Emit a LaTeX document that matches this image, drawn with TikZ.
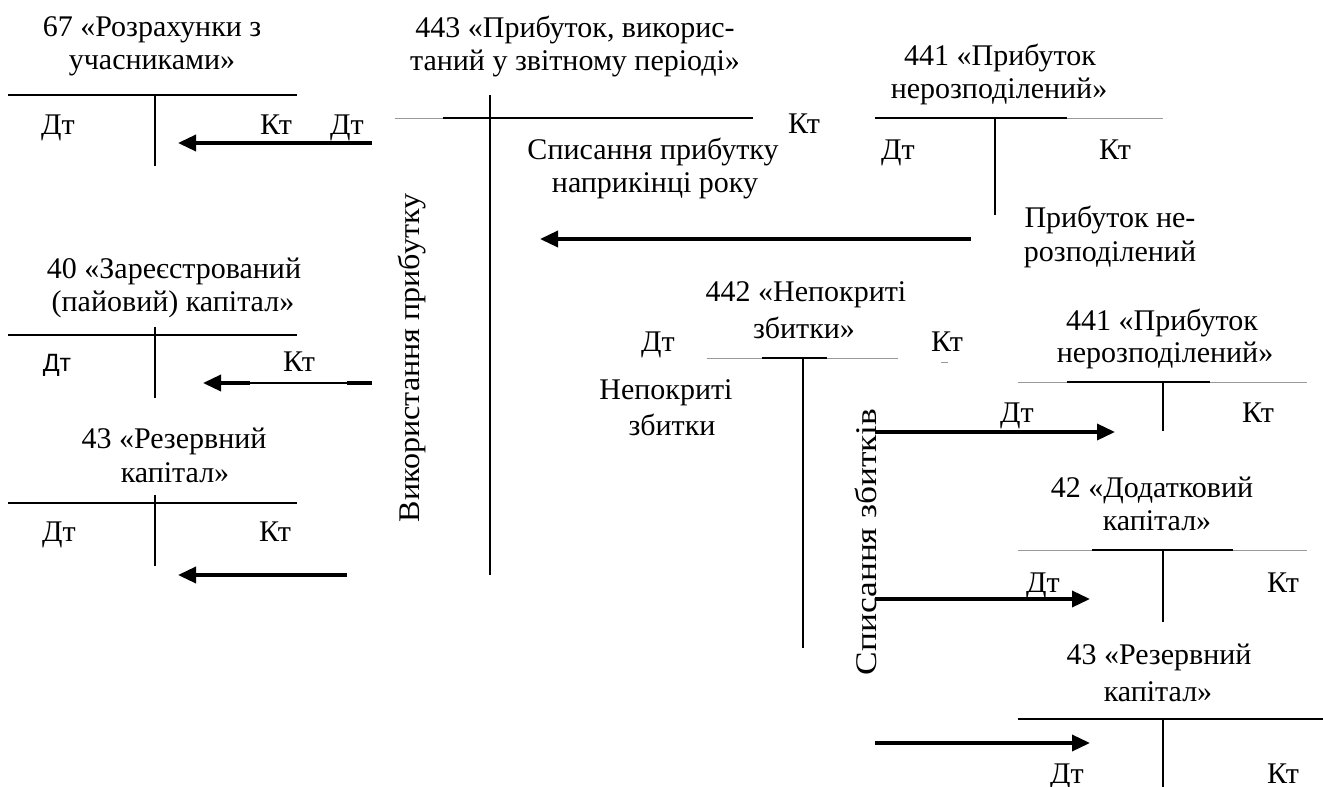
\documentclass[tikz,border=0pt]{standalone}
\usepackage{fontspec}
\setmainfont{Liberation Serif}
\newfontfamily\arialfont{Liberation Sans}
\usetikzlibrary{arrows.meta}

\begin{document}
\begin{tikzpicture}[x=1pt,y=-1pt,
  lbl/.style={font=\fontsize{30}{34}\selectfont, inner sep=0pt, anchor=base},
  vlbl/.style={font=\fontsize{30}{34}\selectfont, inner sep=0pt, rotate=90},
  tacc/.style={line width=1.8pt},
  graylin/.style={line width=1pt, draw=black!40},
  flow/.style={line width=3.5pt, -{Triangle[length=18pt,width=16pt]}},
  thinflow/.style={line width=1.3pt},
]
\useasboundingbox (0,0) rectangle (1323,787);

% ---------- account 67 ----------
\node[lbl] (t67a) at (152,36) {67 «Розрахунки з};
\node[lbl] (t67b) at (152,69) {учасниками»};
\draw[tacc] (8,95) coordinate (h67l) -- (297,95) coordinate (h67r);
\draw[tacc] (155,95) coordinate (v67t) -- (155,166) coordinate (v67b);
\node[lbl] (d67) at (58,134) {Дт};
\node[lbl] (k67) at (276,134) {Кт};
\node[lbl] (d443) at (347,134) {Дт};
\coordinate (a67s) at (372,143);
\coordinate (a67e) at (178,143);
\draw[flow] (a67s) -- (a67e);

% ---------- account 443 ----------
\node[lbl] (t443a) at (575,37) {443 «Прибуток, викорис-};
\node[lbl] (t443b) at (575,70) {таний у звітному періоді»};
\draw[graylin] (395,118) coordinate (h443l) -- (443,118) coordinate (h443m);
\draw[tacc] (h443m) -- (753,118) coordinate (h443r);
\draw[tacc] (490,95) coordinate (v443t) -- (490,575) coordinate (v443b);
\node[lbl] (k443) at (804,133) {Кт};
\node[lbl] (s1a) at (653,159) {Списання прибутку};
\node[lbl] (s1b) at (655,192) {наприкінці року};
\node[vlbl, xscale=1.07] (use) at (412,358) {Використання прибутку};
\coordinate (a441s) at (971,239);
\coordinate (a441e) at (540,239);
\draw[flow] (a441s) -- (a441e);

% ---------- account 441 (top) ----------
\node[lbl] (t441a) at (1000,65) {441 «Прибуток};
\node[lbl] (t441b) at (999,98) {нерозподілений»};
\draw[tacc] (875,118) coordinate (h441l) -- (1067,118) coordinate (h441m);
\draw[graylin] (h441m) -- (1163,118) coordinate (h441r);
\draw[tacc] (995,118) coordinate (v441t) -- (995,215) coordinate (v441b);
\node[lbl] (d441) at (898,159) {Дт};
\node[lbl] (k441) at (1115,159) {Кт};
\node[lbl] (p1a) at (1110,227) {Прибуток не-};
\node[lbl] (p1b) at (1110,261) {розподілений};

% ---------- account 40 ----------
\node[lbl] (t40a) at (174,278) {40 «Зареєстрований};
\node[lbl] (t40b) at (173,311) {(пайовий) капітал»};
\draw[tacc] (8,335) coordinate (h40l) -- (297,335) coordinate (h40r);
\draw[tacc] (155,327) coordinate (v40t) -- (155,398) coordinate (v40b);
\node[lbl, font=\arialfont\fontsize{25}{29}\selectfont] (d40) at (57,371) {Дт};
\node[lbl] (k40) at (299,371) {Кт};
\coordinate (a40s) at (372,383);
\coordinate (a40m) at (347,383);
\coordinate (a40n) at (250,383);
\coordinate (a40e) at (203,383);
\draw[line width=3.5pt] (a40s) -- (a40m);
\draw[thinflow] (a40m) -- (a40n);
\draw[flow] (a40n) -- (a40e);

% ---------- account 43 (left) ----------
\node[lbl] (t43a) at (174,448) {43 «Резервний};
\node[lbl] (t43b) at (175,482) {капітал»};
\draw[tacc] (8,503) coordinate (h43l) -- (297,503) coordinate (h43r);
\draw[tacc] (155,495) coordinate (v43t) -- (155,566) coordinate (v43b);
\node[lbl] (d43) at (59,541) {Дт};
\node[lbl] (k43) at (275,541) {Кт};
\coordinate (a43s) at (347,575);
\coordinate (a43e) at (178,575);
\draw[flow] (a43s) -- (a43e);

% ---------- account 442 ----------
\node[lbl] (t442a) at (806,301) {442 «Непокриті};
\node[lbl] (t442b) at (804,338) {збитки»};
\node[lbl] (d442) at (658,351) {Дт};
\node[lbl] (k442) at (947,351) {Кт};
\draw[graylin] (707,358) coordinate (h442l) -- (898,358) coordinate (h442r);
\draw[tacc] (762,358) coordinate (h442a) -- (827,358) coordinate (h442b);
\draw[graylin] (941,362) coordinate (k442a) -- (948,362) coordinate (k442b);
\draw[tacc] (803,358) coordinate (v442t) -- (803,648) coordinate (v442b);
\node[lbl] (n1a) at (666,399) {Непокриті};
\node[lbl] (n1b) at (672,435) {збитки};
\node[vlbl, xscale=1.18] (wr) at (866,542) {Списання збитків};

% ---------- account 441 (lower) ----------
\node[lbl] (t441c) at (1162,330) {441 «Прибуток};
\node[lbl] (t441d) at (1165,362) {нерозподілений»};
\draw[graylin] (1018,382) coordinate (h441bl) -- (1307,382) coordinate (h441br);
\draw[tacc] (1067,382) coordinate (h441ba) -- (1210,382) coordinate (h441bb);
\draw[tacc] (1163,382) coordinate (v441bt) -- (1163,431) coordinate (v441bb);
\node[lbl] (d441b) at (1017,422) {Дт};
\node[lbl] (k441b) at (1258,422) {Кт};
\coordinate (b1s) at (875,432);
\coordinate (b1e) at (1115,432);
\draw[flow] (b1s) -- (b1e);

% ---------- account 42 ----------
\node[lbl] (t42a) at (1152,497) {42 «Додатковий};
\node[lbl] (t42b) at (1157,530) {капітал»};
\draw[graylin] (1018,550) coordinate (h42l) -- (1307,550) coordinate (h42r);
\draw[tacc] (1092,550) coordinate (h42a) -- (1233,550) coordinate (h42b);
\draw[tacc] (1163,550) coordinate (v42t) -- (1163,622) coordinate (v42b);
\node[lbl] (d42) at (1043,592) {Дт};
\node[lbl] (k42) at (1283,592) {Кт};
\coordinate (b2s) at (875,599);
\coordinate (b2e) at (1090,599);
\draw[flow] (b2s) -- (b2e);

% ---------- account 43 (right) ----------
\node[lbl] (t43c) at (1159,664) {43 «Резервний};
\node[lbl] (t43d) at (1158,701) {капітал»};
\draw[tacc] (1018,719) coordinate (h43rl) -- (1323,719) coordinate (h43rr);
\draw[tacc] (1163,719) coordinate (v43rt) -- (1163,787) coordinate (v43rb);
\node[lbl] (d43r) at (1067,783) {Дт};
\node[lbl] (k43r) at (1283,783) {Кт};
\coordinate (b3s) at (875,743);
\coordinate (b3e) at (1090,743);
\draw[flow] (b3s) -- (b3e);
\end{tikzpicture}
\end{document}
